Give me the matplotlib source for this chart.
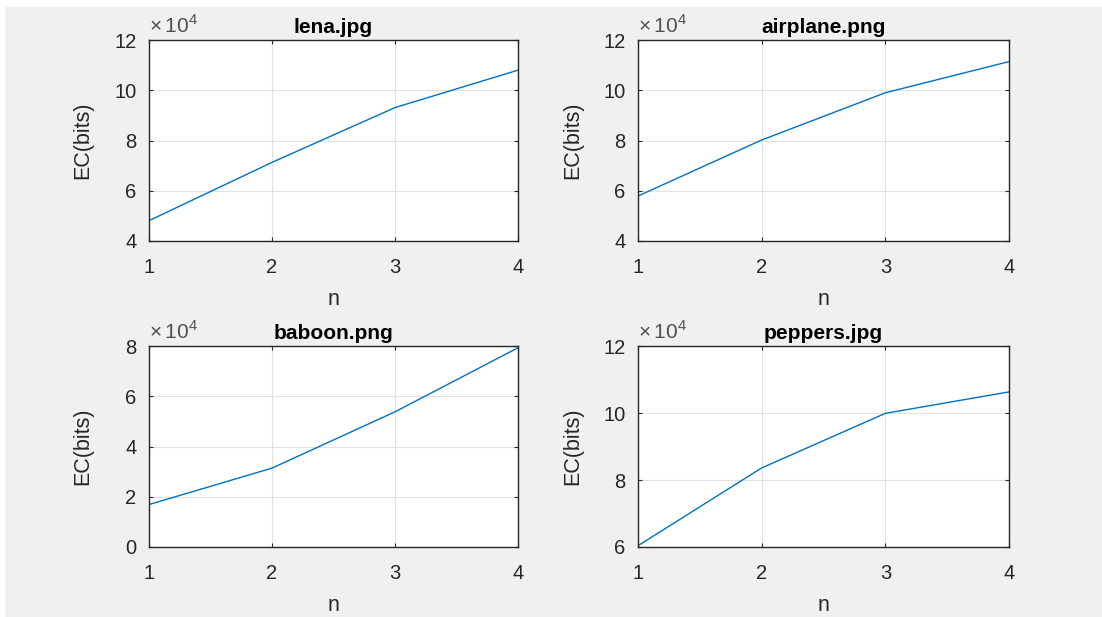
import matplotlib.pyplot as plt
from matplotlib.patches import Rectangle
import numpy as np

plt.rcParams['font.family'] = ['Liberation Sans', 'DejaVu Sans']
plt.rcParams['mathtext.fontset'] = 'custom'
plt.rcParams['mathtext.rm'] = 'Liberation Sans'

# data (values in units of 1e4 bits)
n = [1, 2, 3, 4]
lena = [4.81, 7.13, 9.31, 10.80]
airplane = [5.79, 8.02, 9.90, 11.14]
baboon = [1.69, 3.14, 5.38, 7.93]
peppers = [6.04, 8.36, 9.99, 10.63]

titles = ["lena.jpg", "airplane.png", "baboon.png", "peppers.jpg"]
series = [lena, airplane, baboon, peppers]
ylims = [(4, 12), (4, 12), (0, 8), (6, 12)]
yticks = [[4, 6, 8, 10, 12], [4, 6, 8, 10, 12], [0, 2, 4, 6, 8], [6, 8, 10, 12]]

W, H = 1102, 617
fig = plt.figure(figsize=(W / 100, H / 100), dpi=100, facecolor="white")
# grey matlab-style background
fig.patches.append(Rectangle((5 / W, 0), 1, 1 - 7 / H, transform=fig.transFigure,
                             facecolor="#f0f0f0", edgecolor="none", zorder=-10))

# axes boxes in pixels: left, top, right, bottom
boxes = [(149, 40, 518, 241), (638, 40, 1009, 241),
         (149, 346, 518, 547), (638, 346, 1009, 547)]
ylab_off = [-56, -55, -56, -55]

txt = "#262626"
for i in range(4):
    l, t, r, b = boxes[i]
    ax = fig.add_axes([l / W, 1 - b / H, (r - l) / W, (b - t) / H])
    ax.plot(n, series[i], color="#0072BD", linewidth=1.0)
    ax.set_xlim(1, 4)
    ax.set_ylim(*ylims[i])
    ax.set_xticks(n)
    ax.set_yticks(yticks[i])
    ax.grid(True, color="#e1e1e1", linewidth=0.8)
    ax.set_axisbelow(True)
    for s in ax.spines.values():
        s.set_color("#262626")
        s.set_linewidth(1.0)
    ax.tick_params(direction="in", length=3, width=0.8, top=True, right=True,
                   labelsize=14.5, labelcolor=txt, color="#262626")
    ax.tick_params(axis="x", pad=12)
    ax.tick_params(axis="y", pad=9)
    ax.set_title(titles[i], fontsize=15, fontweight="bold", pad=5)
    ax.set_xlabel("n", fontsize=15.5, color=txt)
    ax.set_ylabel("EC(bits)", fontsize=15.5, color=txt)
    ax.yaxis.set_label_coords(ylab_off[i] / (r - l), 0.5)
    ax.xaxis.set_label_coords(0.5, -48 / (b - t))
    ax.text(0.0, 1.015, r"$\times\,10^{4}$", transform=ax.transAxes, ha="left",
            va="bottom", fontsize=15, color="#505050")

fig.savefig("out.png", dpi=100, facecolor=fig.get_facecolor())
